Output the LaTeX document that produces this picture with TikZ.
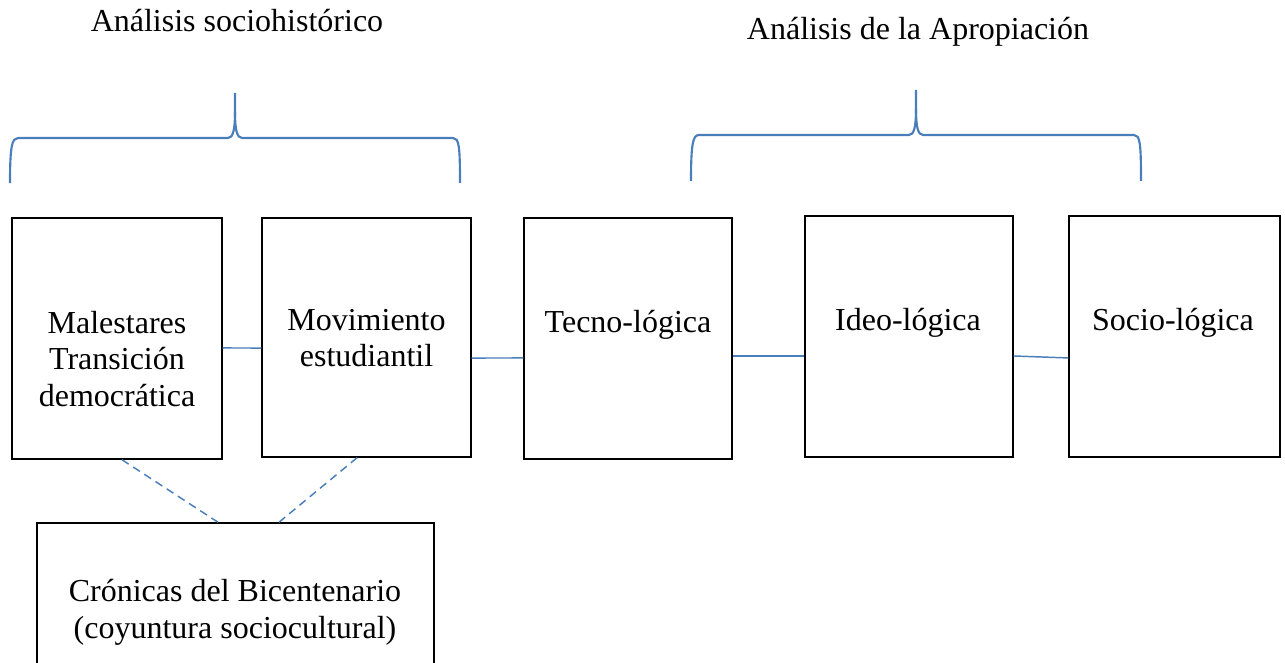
\documentclass[tikz,border=0pt]{standalone}
\usepackage{fontspec}
\setmainfont{Liberation Serif}
\begin{document}
\begin{tikzpicture}[x=0.75pt,y=-0.75pt,
  box/.style={draw=black,line width=1.1pt,rectangle,inner sep=0pt},
  txt/.style={align=center,inner sep=0pt,font=\fontsize{24}{27.5}\selectfont},
  link/.style={draw={rgb,255:red,74;green,126;blue,187},line width=1.1pt},
  dlink/.style={link,dash pattern=on 6pt off 4pt},
  bracestyle/.style={draw={rgb,255:red,74;green,126;blue,187},line width=1.6pt}]
\useasboundingbox (0,0) rectangle (1285,663);
% boxes
\node[box,minimum width=157.5pt,minimum height=180.75pt] (b1) at (117,338.5) {};
\node[box,minimum width=156.75pt,minimum height=179.25pt] (b2) at (366.5,337.5) {};
\node[box,minimum width=156pt,minimum height=180.75pt] (b3) at (628,338.5) {};
\node[box,minimum width=156pt,minimum height=180.75pt] (b4) at (909,336.5) {};
\node[box,minimum width=158.25pt,minimum height=180.75pt] (b5) at (1174.5,336.5) {};
\node[box,minimum width=297.75pt,minimum height=129pt] (b6) at (235.5,609) {};
% texts
\node[txt] (t1) at (117,359) {Malestares\\Transición\\democrática};
\node[txt] (t2) at (366.5,338) {Movimiento\\estudiantil};
\node[txt] (t3) at (628,325) {Tecno-lógica};
\node[txt] (t4) at (908,323) {Ideo-lógica};
\node[txt] (t5) at (1173,323) {Socio-lógica};
\node[txt] (t6) at (235,612) {Crónicas del Bicentenario\\(coyuntura sociocultural)};
\node[txt] (h1) at (237,21) {Análisis sociohistórico};
\node[txt] (h2) at (918,32) {Análisis de la Apropiación};
% connectors
\draw[link] ([yshift=-7.1pt]b1.east) -- ([yshift=-7.9pt]b2.west);
\draw[link] ([yshift=-15.4pt]b2.east) -- ([yshift=-14.6pt]b3.west);
\draw[link] ([yshift=-13.1pt]b3.east) -- ([yshift=-14.6pt]b4.west);
\draw[link] ([yshift=-14.6pt]b4.east) -- ([yshift=-16.1pt]b5.west);
\draw[dlink] ([xshift=3.75pt]b1.south) -- ([xshift=-13.1pt]b6.north);
\draw[dlink] ([xshift=-7.1pt]b2.south) -- ([xshift=32.6pt]b6.north);
% braces
\draw[bracestyle] (10,183) .. controls (10,146) and (12,138) .. (18,138) -- (228,138)
  .. controls (233,138) and (235,130) .. (235,112) -- (235,93);
\draw[bracestyle] (235,112) .. controls (235,130) and (237,138) .. (242,138) -- (453,138)
  .. controls (459,138) and (460,146) .. (460,183);
\draw[bracestyle] (691,181) .. controls (691,143) and (693,135) .. (699,135) -- (909,135)
  .. controls (914,135) and (916,127) .. (916,109) -- (916,90);
\draw[bracestyle] (916,109) .. controls (916,127) and (918,135) .. (923,135) -- (1134,135)
  .. controls (1140,135) and (1141,143) .. (1141,181);
\end{tikzpicture}
\end{document}
